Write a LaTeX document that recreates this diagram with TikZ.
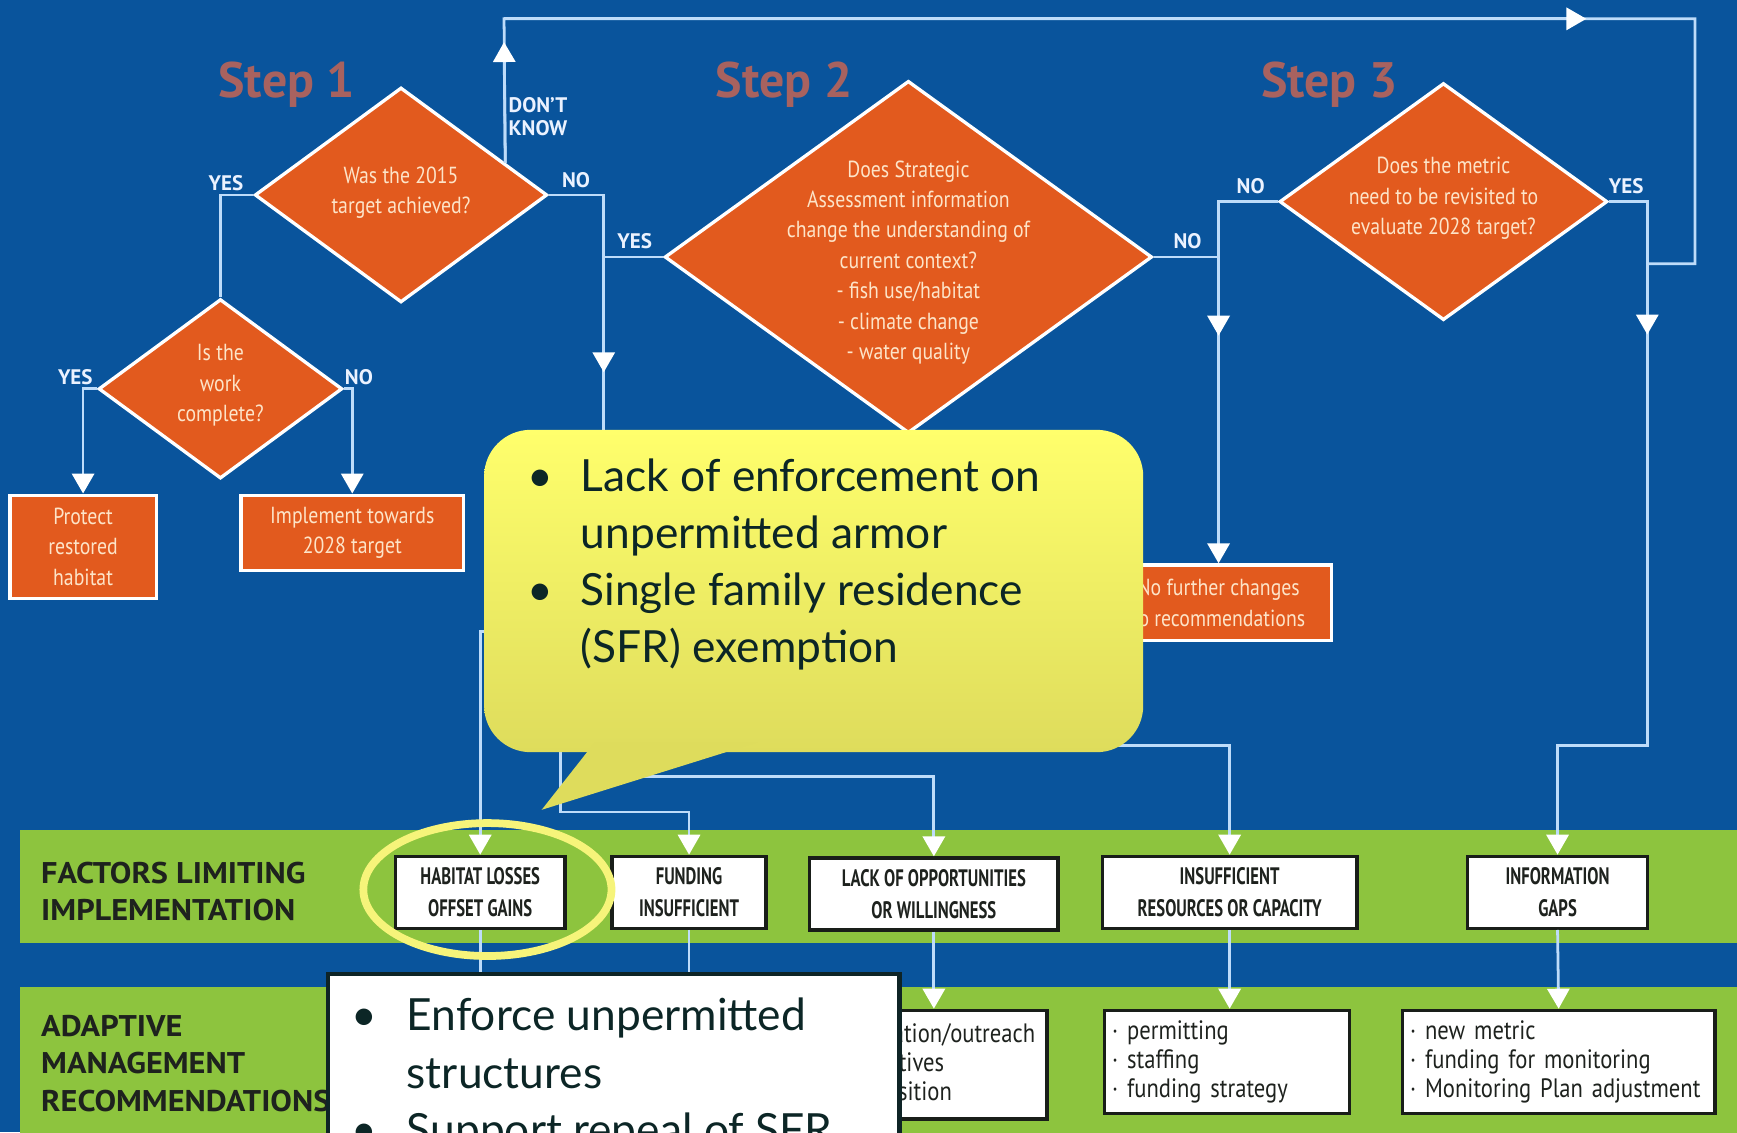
\documentclass[tikz,border=0pt]{standalone}
\usepackage{fontspec}
\usetikzlibrary{shapes.geometric,arrows.meta,calc}
\setmainfont{PT Sans}
\newfontfamily\condfont{PT Sans}[FakeStretch=0.85]
\newfontfamily\tightfont{PT Sans}[FakeStretch=0.7]
\newfontfamily\widefont{PT Sans}[FakeStretch=1.08]
\newfontfamily\bubblefont{Lato}

\definecolor{bgblue}{RGB}{9,84,156}
\definecolor{bandgreen}{RGB}{141,196,62}
\definecolor{orangeA}{RGB}{226,90,30}
\definecolor{peach}{RGB}{253,228,200}
\definecolor{linec}{RGB}{190,220,250}
\definecolor{labwhite}{RGB}{235,242,255}
\definecolor{steptxt}{RGB}{168,98,95}
\definecolor{darktxt}{RGB}{30,34,30}
\definecolor{boxline}{RGB}{25,30,25}
\definecolor{calltext}{RGB}{12,38,38}
\definecolor{boxdark}{RGB}{14,36,38}
\definecolor{bubtop}{RGB}{255,255,108}
\definecolor{bubbot}{RGB}{222,220,92}
\definecolor{ringc}{RGB}{246,244,122}

\begin{document}
\begin{tikzpicture}[x=1pt,y=-1pt,
  wire/.style={draw=linec, line width=2.5pt},
  arrowed/.style={-{Triangle[width=20pt,length=18pt,color=white]}},
  decision/.style={diamond, draw=white, line width=3pt, fill=orangeA, inner sep=0pt},
  qtext/.style={text=peach, align=center, inner sep=0pt,
    font=\condfont\fontsize{21}{27.5}\selectfont},
  action/.style={draw=white, line width=3pt, fill=orangeA, inner sep=0pt,
    text=peach, align=center, font=\condfont\fontsize{21}{27.5}\selectfont},
  lab/.style={text=labwhite, inner sep=0pt, font=\bfseries\fontsize{19}{21}\selectfont},
  steptitle/.style={text=steptxt, inner sep=0pt, anchor=base,
    font=\bfseries\fontsize{45}{50}\selectfont},
  bandlab/.style={text=darktxt, inner sep=0pt, align=left,
    font=\widefont\bfseries\fontsize{27}{33.5}\selectfont},
  factor/.style={draw=boxline, line width=3pt, fill=white, inner sep=0pt,
    align=center, text=darktxt, font=\tightfont\bfseries\fontsize{21.5}{29}\selectfont},
  rec/.style={draw=boxline, line width=3pt, fill=white, inner ysep=0pt, inner xsep=7pt,
    align=left, text=darktxt, font=\condfont\fontsize{24}{26.5}\selectfont},
  bubble/.style={rounded corners=42pt, top color=bubtop, bottom color=bubbot,
    draw=none, inner sep=0pt},
  bubbletext/.style={text=calltext, align=left, inner sep=0pt,
    font=\bubblefont\fontsize{40}{51.5}\selectfont}
]
\useasboundingbox (0,0) rectangle (1568,1022);

% background and the two green bands
\fill[bgblue] (0,0) rectangle (1568,1022);
\fill[bandgreen] (18,749) rectangle (1568,851);
\fill[bandgreen] (18,891) rectangle (1568,1030);

% decision diamonds
\node[decision, minimum width=264pt, minimum height=194pt] (q1) at (362,176) {};
\node[decision, minimum width=220pt, minimum height=162pt] (q2) at (199,351) {};
\node[decision, minimum width=440pt, minimum height=318pt] (q3) at (820,232) {};
\node[decision, minimum width=296pt, minimum height=214pt] (q4) at (1303,182) {};

% action boxes
\node[action, minimum width=132pt, minimum height=93pt] (p1) at (75,493.5) {Protect\\restored\\habitat};
\node[action, minimum width=201pt, minimum height=68pt] (p2) at (318,481) {Implement towards\\2028 target};
\node[action, minimum width=204pt, minimum height=68pt] (p3) at (1100,544) {No further changes\\to recommendations};

% factor boxes
\node[factor, minimum width=153pt, minimum height=65pt] (f1) at (433.5,805.5) {HABITAT LOSSES\\OFFSET GAINS};
\node[factor, minimum width=139pt, minimum height=65pt] (f2) at (622,805.5) {FUNDING\\INSUFFICIENT};
\node[factor, minimum width=224pt, minimum height=65pt] (f3) at (843,807) {LACK OF OPPORTUNITIES\\OR WILLINGNESS};
\node[factor, minimum width=230pt, minimum height=65pt] (f4) at (1110,805.5) {INSUFFICIENT\\RESOURCES OR CAPACITY};
\node[factor, minimum width=162pt, minimum height=65pt] (f5) at (1406,805.5) {INFORMATION\\GAPS};

% recommendation boxes
\node[rec, inner xsep=5pt, minimum height=98pt, text width=189pt] (r3) at (845.5,961)
  {\mbox{· education/outreach}\\\mbox{· incentives}\\\mbox{· acquisition}};
\node[rec, minimum height=93pt, text width=207pt] (r4) at (1107.5,958.5) {· permitting\\· staffing\\· funding strategy};
\node[rec, minimum height=93pt, text width=268pt] (r5) at (1407,958.5) {· new metric\\· funding for monitoring\\· Monitoring Plan adjustment};

% bends and free ends of the connectors
\coordinate (c1) at (545,176);
\coordinate (a1) at (545,336);
\coordinate (e1) at (545,430);
\coordinate (dk0) at ($(q1.north)!0.705!(q1.east)$);
\coordinate (dk1) at (455,17);
\coordinate (dka) at (455,38);
\coordinate (dk2) at (1530,17);
\coordinate (dkb) at (1432,17);
\coordinate (dk3) at (1530,238);
\coordinate (dk4) at (1487,238);
\coordinate (c2) at (1100,182);
\coordinate (a2) at (1100,303);
\coordinate (c3) at (1487,182);
\coordinate (a3) at (1487,302);
\coordinate (c4) at (1487,673);
\coordinate (h1) at (470,570);
\coordinate (h2) at (506,620);
\coordinate (h2b) at (506,733);
\coordinate (h3) at (560,701);
\coordinate (h4) at (1000,673);
\coordinate (wtop) at (0,890);

% connectors
\draw[wire] (q1.west) -| (q2.north);
\draw[wire,arrowed] (q2.west) -| (p1.north);
\draw[wire,arrowed] (q2.east) -| (p2.north);
\draw[wire] (q1.east) -- (c1) -- (e1);
\draw[wire,arrowed] (c1) -- (a1);
\draw[wire] (q3.west) -- (q3.west -| c1);
\draw[wire] (dk0) -- (dk1) -- (dk2) -- (dk3) -- (dk4);
\draw[wire,arrowed] (dk0) -- (dka);
\draw[wire,arrowed] (dk1) -- (dkb);
\draw[wire] (q3.east) -- (q3.east -| c2);
\draw[wire,arrowed] (q4.west) -- (c2) -- (p3.north);
\draw[wire,arrowed] (c2) -- (a2);
\draw[wire,arrowed] (q4.east) -- (c3) -- (c4) -| (f5.north);
\draw[wire,arrowed] (c3) -- (a3);
\draw[wire,arrowed] (h1) -| (f1.north);
\draw[wire,arrowed] (h2) -- (h2b) -| (f2.north);
\draw[wire,arrowed] (h3) -| (f3.north);
\draw[wire,arrowed] (h4) -| (f4.north);
\draw[wire] (f1.south) -- (f1.south |- wtop);
\draw[wire] (f2.south) -- (f2.south |- wtop);
\draw[wire,arrowed] (f3.south) -- (f3.south |- r3.north);
\draw[wire,arrowed] (f4.south) -- (f4.south |- r4.north);
\draw[wire,arrowed] (f5.south) -- (r5.north);

% question texts
\node[qtext] (q1t) at (362,174) {Was the 2015\\target achieved?};
\node[qtext] (q2t) at (199,348) {Is the\\work\\complete?};
\node[qtext] (q3t) at (820,237) {Does Strategic\\Assessment information\\change the understanding of\\current context?\\- fish use/habitat\\- climate change\\- water quality};
\node[qtext] (q4t) at (1303,179) {Does the metric\\need to be revisited to\\evaluate 2028 target?};

% step titles
\node[steptitle] (s1) at (259,88) {Step 1};
\node[steptitle] (s2) at (708,88) {Step 2};
\node[steptitle] (s3) at (1200,88) {Step 3};

% branch labels
\node[lab] (l1) at (204,165) {YES};
\node[lab] (l2) at (520,163) {NO};
\node[lab, align=left, anchor=north west] (l3) at (459,88) {DON’T\\KNOW};
\node[lab] (l4) at (68,340) {YES};
\node[lab] (l5) at (324,340) {NO};
\node[lab] (l6) at (573,218) {YES};
\node[lab] (l7) at (1072,218) {NO};
\node[lab] (l8) at (1129,168) {NO};
\node[lab] (l9) at (1468,168) {YES};

% band headings
\node[bandlab, anchor=west] (b1) at (37,805) {FACTORS LIMITING\\IMPLEMENTATION};
\node[bandlab, anchor=west] (b2) at (37,960) {ADAPTIVE\\MANAGEMENT\\RECOMMENDATIONS};

% yellow speech bubble
\node[bubble, minimum width=595pt, minimum height=291pt] (yc) at (734.5,533.5) {};
\fill[bubbot] (537,670) -- (684,670) -- (489,731) -- cycle;
\node[bubbletext, anchor=north west] (yct) at (476,414)
  {\makebox[48pt][l]{•}Lack of enforcement on\\\hspace*{48pt}unpermitted armor\\
   \makebox[48pt][l]{•}Single family residence\\\hspace*{48pt}(SFR) exemption};

% highlight ring
\node[draw=ringc, line width=7pt, ellipse, inner sep=0pt,
      minimum width=224pt, minimum height=120pt] (ring) at (440,803) {};

% white note box
\node[draw=boxdark, line width=4pt, fill=white, inner sep=0pt, anchor=north west,
      minimum width=516pt, minimum height=200pt] (wb) at (294,877) {};
\node[bubbletext, anchor=north west] (wbt) at (317,901)
  {\makebox[50pt][l]{•}Enforce unpermitted\\\hspace*{50pt}structures\\
   \makebox[50pt][l]{•}Support repeal of SFR};
\end{tikzpicture}
\end{document}
